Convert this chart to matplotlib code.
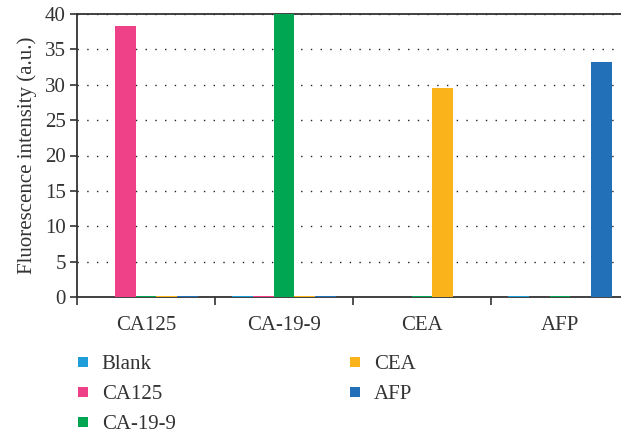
import matplotlib
matplotlib.use("Agg")
import matplotlib.pyplot as plt
import numpy as np
from matplotlib.lines import Line2D

categories = ["CA125", "CA-19-9", "CEA", "AFP"]
series_names = ["Blank", "CA125", "CA-19-9", "CEA", "AFP"]
blank = [0.0, 0.15, 0.0, 0.1]
ca125 = [38.3, 0.15, 0.0, 0.0]
ca199 = [0.15, 40.0, 0.2, 0.15]
cea = [0.2, 0.15, 29.6, 0.0]
afp = [0.15, 0.15, 0.0, 33.2]
colors = ["#1F9ED9", "#EE4187", "#00A651", "#FBB31C", "#2271B8"]
yticks = [0, 5, 10, 15, 20, 25, 30, 35, 40]

plt.rcParams['font.family'] = ['Liberation Serif', 'DejaVu Serif']
txt = "#333333"
fs = 15

fig = plt.figure(figsize=(6.21, 4.34), dpi=100)
W, H = 621, 434
left, right, top, bottom = 77, 629, 14, 297
ax = fig.add_axes([left / W, 1 - bottom / H, (right - left) / W, (bottom - top) / H])

x = np.arange(len(categories))
n = len(series_names)
bw = 0.76 / n
data = [blank, ca125, ca199, cea, afp]
for i, (vals, c, name) in enumerate(zip(data, colors, series_names)):
    ax.bar(x + (i - (n - 1) / 2) * bw, vals, bw, color=c, label=name, zorder=3, linewidth=0)

ax.set_xlim(-0.5, len(categories) - 0.5)
ax.set_ylim(0, 40)
ax.set_yticks(yticks)
ax.set_xticks(x)
ax.set_xticklabels(categories, fontsize=fs, color=txt)
ax.set_xticks(np.arange(len(categories) + 1) - 0.5, minor=True)
ax.tick_params(axis='x', which='major', length=0, pad=14)
ax.tick_params(axis='x', which='minor', length=6, width=1.2, color="#333333", direction='out')
ax.tick_params(axis='y', length=5, width=1.2, color="#333333", labelsize=fs, labelcolor=txt, pad=3)
ax.yaxis.grid(True, linestyle=(0, (1, 6)), color="#222222", linewidth=1.0, zorder=0)
for s in ["left", "bottom", "top", "right"]:
    ax.spines[s].set_color("#333333")
    ax.spines[s].set_linewidth(1.3)
ax.set_ylabel("Fluorescence intensity (a.u.)", fontsize=fs, color=txt, labelpad=6)

handles = [Line2D([], [], marker='s', linestyle='none', markersize=7.2, color=c, markeredgewidth=0) for c in colors]
leg = fig.legend(handles, series_names, ncol=2,
                 loc='upper left', bbox_to_anchor=(64 / W, 1 - 346 / H), frameon=False,
                 fontsize=fs, labelcolor=txt, handletextpad=0.41, columnspacing=8.1,
                 labelspacing=0.5, handlelength=1.0, borderaxespad=0)

fig.savefig("out.png", dpi=100)
